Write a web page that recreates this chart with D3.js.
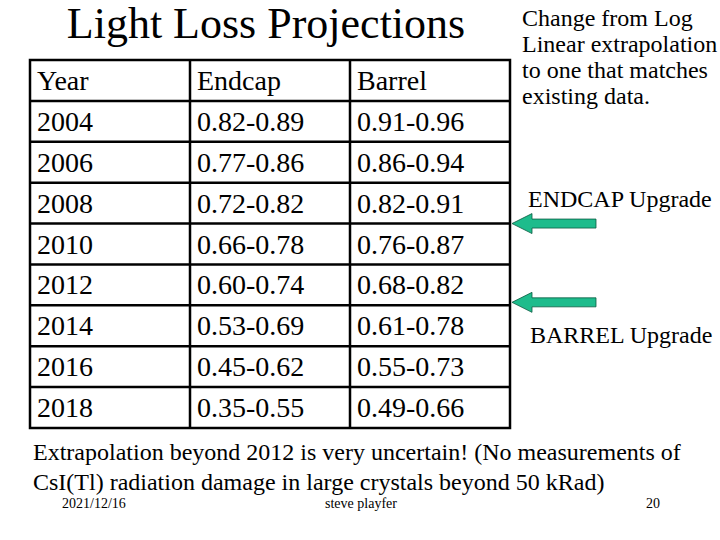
<!DOCTYPE html>
<html>
<head>
<meta charset="utf-8">
<script src="https://cdn.jsdelivr.net/npm/d3@7"></script>
<style>
  body { margin: 0; background: #fff; }
</style>
</head>
<body>
<svg width="720" height="540"></svg>
<script>
const headers = ['Year', 'Endcap', 'Barrel']
const years = ['2004', '2006', '2008', '2010', '2012', '2014', '2016', '2018']
const endcapLow = [0.82, 0.77, 0.72, 0.66, 0.60, 0.53, 0.45, 0.35]
const endcapHigh = [0.89, 0.86, 0.82, 0.78, 0.74, 0.69, 0.62, 0.55]
const barrelLow = [0.91, 0.86, 0.82, 0.76, 0.68, 0.61, 0.55, 0.49]
const barrelHigh = [0.96, 0.94, 0.91, 0.87, 0.82, 0.78, 0.73, 0.66]
const upgradeRows = ['2010', '2014']
const noteLines = ['Change from Log', 'Linear extrapolation', 'to one that matches', 'existing data.']
const footLines = ['Extrapolation beyond 2012 is very uncertain! (No measurements of',
  'CsI(Tl) radiation damage in large crystals beyond 50 kRad)']

const svg = d3.select('svg')
  .attr('font-family', 'Liberation Serif, Times New Roman, serif')
const fmt = d3.format('.2f')

const rowKeys = ['head'].concat(years)
const yScale = d3.scaleBand()
  .domain(rowKeys)
  .range([60, 428])

const xScale = d3.scaleBand()
  .domain(headers)
  .range([30, 510])

// rows of text: header + data
const rows = [headers].concat(years.map((y, i) => [
  y,
  fmt(endcapLow[i]) + '-' + fmt(endcapHigh[i]),
  fmt(barrelLow[i]) + '-' + fmt(barrelHigh[i])
]))

svg.append('text')
  .attr('x', 266)
  .attr('y', 38)
  .attr('text-anchor', 'middle')
  .attr('font-size', 44)
  .text('Light Loss Projections')

const table = svg.append('g')

table.selectAll('g.row')
  .data(rows)
  .enter()
  .append('g')
    .attr('class', 'row')
    .attr('transform', (d, i) => `translate(0, ${yScale(rowKeys[i])})`)
  .selectAll('text')
  .data(d => d)
  .enter()
  .append('text')
    .attr('x', (d, j) => xScale(headers[j]) + 7)
    .attr('y', 30)
    .attr('font-size', 28)
    .text(d => d)

// grid lines
table.selectAll('line.h')
  .data(rowKeys.slice(1))
  .enter()
  .append('line')
    .attr('x1', 30).attr('x2', 510)
    .attr('y1', d => yScale(d)).attr('y2', d => yScale(d))
    .attr('stroke', '#000').attr('stroke-width', 2.5)

table.selectAll('line.v')
  .data(headers.slice(1))
  .enter()
  .append('line')
    .attr('y1', 60).attr('y2', 428)
    .attr('x1', d => xScale(d)).attr('x2', d => xScale(d))
    .attr('stroke', '#000').attr('stroke-width', 2.5)

table.append('rect')
  .attr('x', 30).attr('y', 60)
  .attr('width', 480).attr('height', 368)
  .attr('fill', 'none')
  .attr('stroke', '#000').attr('stroke-width', 2.5)

// upgrade arrows
const arrow = 'M0,0 L20,-10 L20,-4.5 L84,-4.5 L84,4.5 L20,4.5 L20,10 Z'
svg.selectAll('path.arrow')
  .data(upgradeRows)
  .enter()
  .append('path')
    .attr('class', 'arrow')
    .attr('d', arrow)
    .attr('transform', (d, i) => `translate(512, ${yScale(d) - (i ? 3 : 0)})`)
    .attr('fill', '#1ebc8c')
    .attr('stroke', '#0a5a40')
    .attr('stroke-width', 0.8)

svg.append('g')
  .selectAll('text')
  .data(noteLines)
  .enter()
  .append('text')
    .attr('x', 522)
    .attr('y', (d, i) => 26 + i * 26)
    .attr('font-size', 24)
    .text(d => d)

svg.append('text')
  .attr('x', 528).attr('y', 207)
  .attr('font-size', 24)
  .text('ENDCAP Upgrade')

svg.append('text')
  .attr('x', 530).attr('y', 343)
  .attr('font-size', 24)
  .text('BARREL Upgrade')

svg.append('g')
  .selectAll('text')
  .data(footLines)
  .enter()
  .append('text')
    .attr('x', 33)
    .attr('y', (d, i) => 460 + i * 30)
    .attr('font-size', 24)
    .text(d => d)

const foot = svg.append('g').attr('font-size', 14)
foot.append('text').attr('x', 62).attr('y', 508).text('2021/12/16')
foot.append('text').attr('x', 361).attr('y', 508).attr('text-anchor', 'middle').text('steve playfer')
foot.append('text').attr('x', 660).attr('y', 508).attr('text-anchor', 'end').text('20')
</script>
</body>
</html>
